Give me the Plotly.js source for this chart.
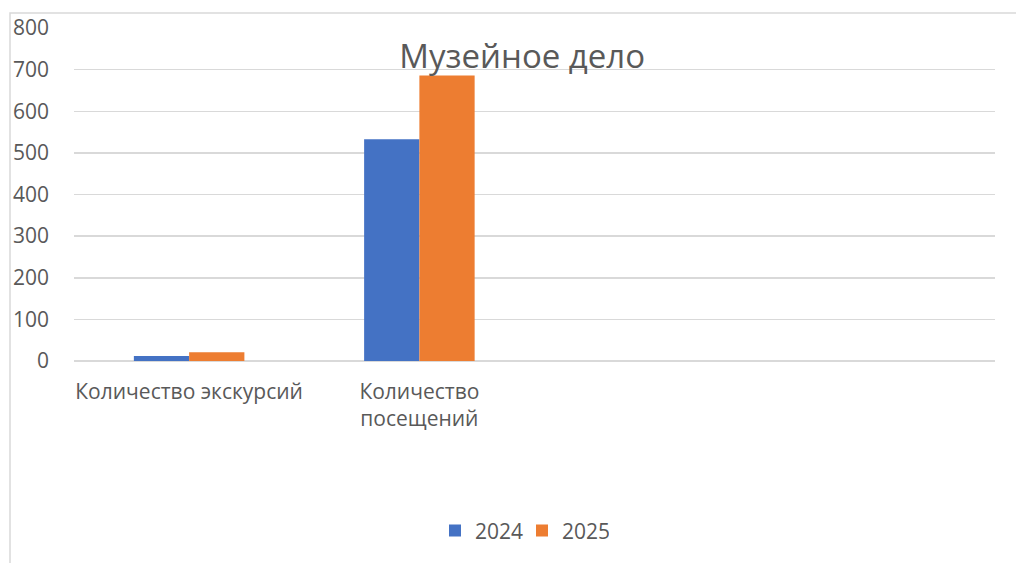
<!DOCTYPE html>
<html><head><meta charset="utf-8">
<script src="https://cdn.plot.ly/plotly-3.0.1.min.js"></script>
<style>html,body{margin:0;padding:0;background:#fff}#c{width:1016px;height:563px}</style>
</head><body><div id="c"></div>
<script>
const categories = ["Количество экскурсий", "Количество<br>посещений", " ", "  "];
const series2024 = [12, 533, null, null];
const series2025 = [21, 686, null, null];
const yTicks = [0, 100, 200, 300, 400, 500, 600, 700, 800];
const chartTitle = "Музейное дело";

const font = {family: "Open Sans, Noto Sans, sans-serif", color: "#595959"};
const data = [
  {type: "bar", name: "2024", x: categories, y: series2024, marker: {color: "#4472C4"}, hoverinfo: "y"},
  {type: "bar", name: "2025", x: categories, y: series2025, marker: {color: "#ED7D31"}, hoverinfo: "y"}
];
const layout = {
  width: 1016, height: 563,
  margin: {l: 74, r: 21, t: 28, b: 202},
  paper_bgcolor: "#fff", plot_bgcolor: "#fff",
  font: font,
  barmode: "group", bargap: 0.52, bargroupgap: 0,
  title: {text: chartTitle, x: 0.514, xanchor: "center", y: 0.9, yanchor: "middle",
          font: {family: font.family, color: "#595959", size: 33}},
  xaxis: {type: "category", tickfont: {size: 21, color: "#595959"}, showgrid: false,
          showline: false, ticks: "", ticklabelstandoff: 16, fixedrange: true},
  yaxis: {range: [0, 800], tickvals: yTicks, tickfont: {size: 21, color: "#595959"},
          gridcolor: "#d9d9d9", gridwidth: 1.5, zeroline: true, zerolinecolor: "#d9d9d9", zerolinewidth: 1.5,
          showline: false, ticks: "", ticklabelstandoff: 24, fixedrange: true},
  showlegend: true,
  legend: {orientation: "h", x: (522 - 74) / 921, xanchor: "center", y: -0.51, yanchor: "middle",
           font: {size: 21, color: "#595959"}, traceorder: "normal", itemwidth: 30,
           entrywidth: 42, entrywidthmode: "pixels"},
  shapes: [{type: "rect", xref: "paper", yref: "paper",
            x0: (10 - 74) / 921, x1: 1.5, y0: -1.0, y1: (361 - 13) / 333,
            line: {color: "#d9d9d9", width: 1.5}, fillcolor: "rgba(0,0,0,0)", layer: "below"}]
};
Plotly.newPlot("c", data, layout, {displayModeBar: false, staticPlot: true});
</script></body></html>
